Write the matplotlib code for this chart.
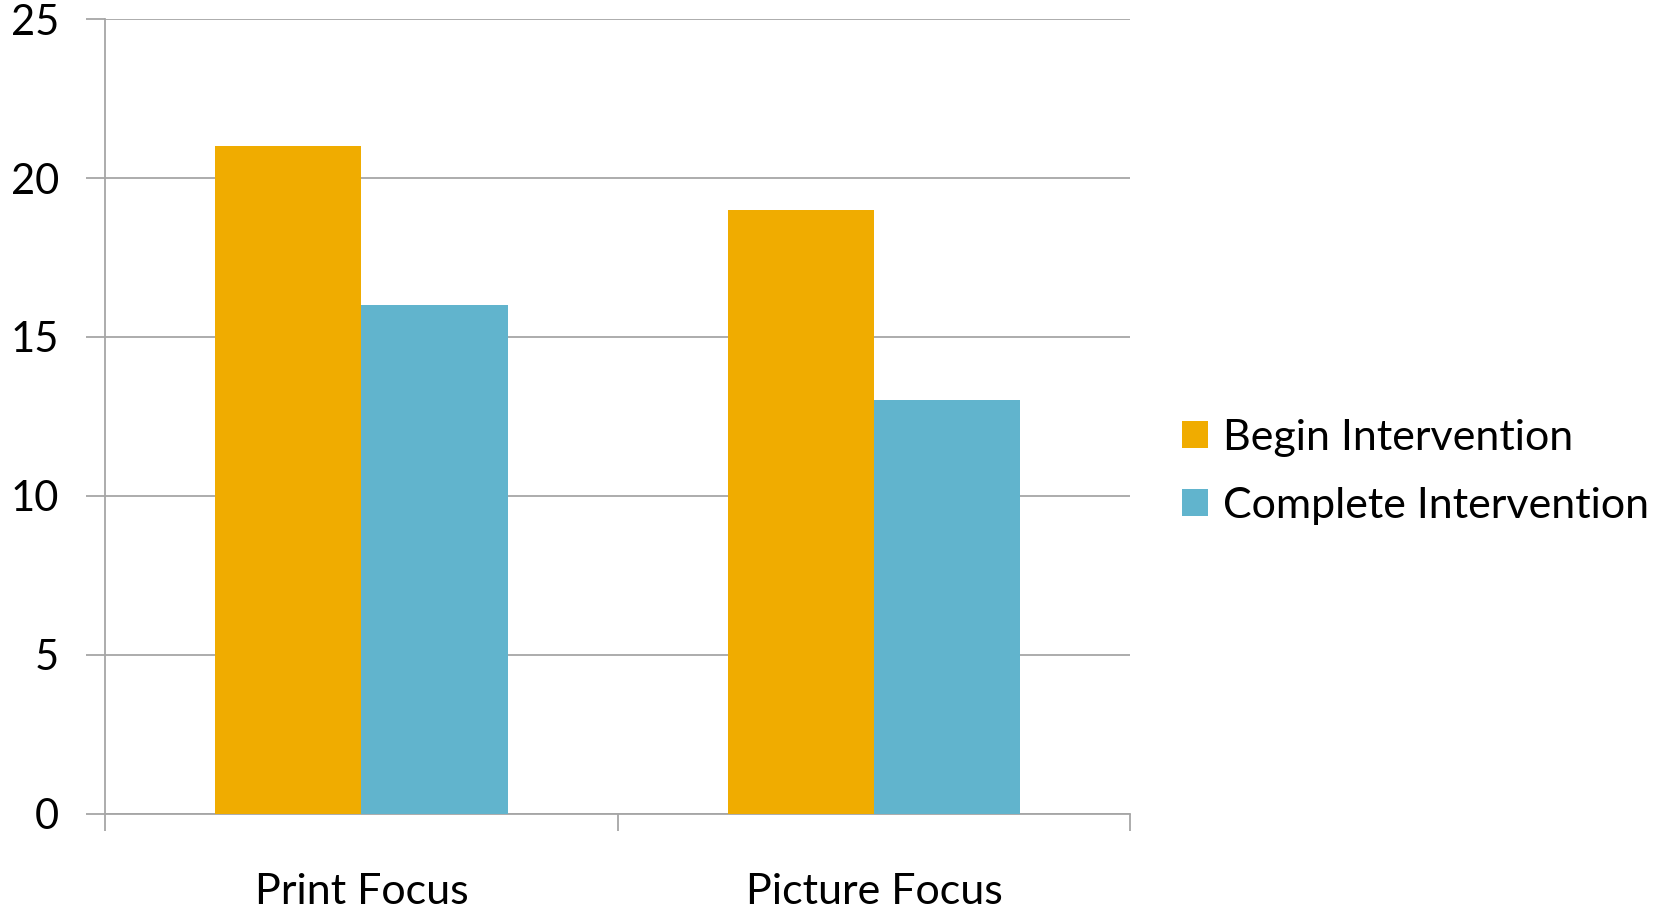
import matplotlib
matplotlib.use("Agg")
import matplotlib.pyplot as plt
import numpy as np

plt.rcParams['font.family'] = ['Lato', 'DejaVu Sans']

# data
categories = ['Print Focus', 'Picture Focus']
series_names = ['Begin Intervention', 'Complete Intervention']
begin_vals = [21, 19]
complete_vals = [16, 13]
y_ticks = [0, 5, 10, 15, 20, 25]
colors = ['#F0AC00', '#61B4CD']

fig = plt.figure(figsize=(16.81, 9.11), dpi=100)
ax = fig.add_axes([0.0625, 0.107, 0.61, 0.872])

x = np.arange(len(categories))
w = 0.285
ax.bar(x - w / 2, begin_vals, w, color=colors[0], label=series_names[0], zorder=3)
ax.bar(x + w / 2, complete_vals, w, color=colors[1], label=series_names[1], zorder=3)

grey = '#A6A6A6'
ax.set_xlim(-0.5, len(categories) - 0.5)
ax.set_ylim(0, 25)
ax.set_yticks(y_ticks)
ax.set_yticklabels([str(t) for t in y_ticks])
ax.yaxis.grid(True, color=grey, linewidth=1.3, zorder=0)

# x ticks sit on the category boundaries, labels in the middle
ax.set_xticks(np.arange(len(categories) + 1) - 0.5)
ax.set_xticklabels([])
ax.set_xticks(x, minor=True)
ax.set_xticklabels(categories, minor=True)
ax.tick_params(axis='x', which='major', length=12, width=1.3, color=grey)
ax.tick_params(axis='x', which='minor', length=0, pad=43, labelsize=31)
ax.tick_params(axis='y', length=14, width=1.3, color=grey, pad=19, labelsize=30)

for side in ['top', 'right']:
    ax.spines[side].set_visible(False)
for side in ['left', 'bottom']:
    ax.spines[side].set_color(grey)
    ax.spines[side].set_linewidth(1.3)

fig.legend(loc='center left', bbox_to_anchor=(0.703, 0.482), frameon=False,
           fontsize=31, handlelength=0.6, handleheight=0.6, handletextpad=0.35,
           labelspacing=0.7, borderpad=0, borderaxespad=0)

fig.savefig('out.png', dpi=100)
